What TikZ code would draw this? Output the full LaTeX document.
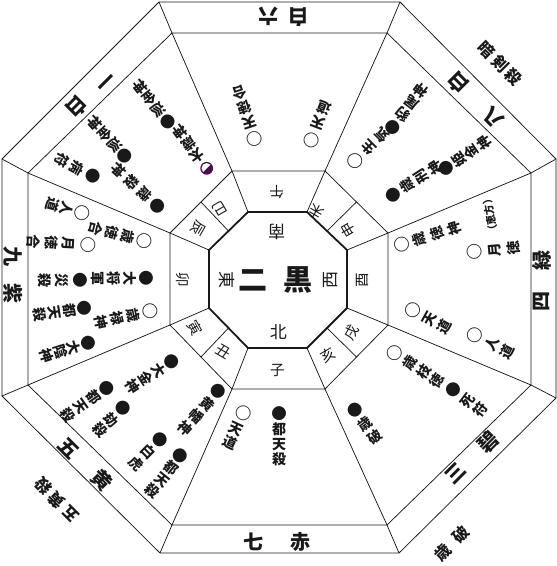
\documentclass[tikz,border=0pt]{standalone}
\usepackage{fontspec}
\setmainfont{Noto Sans CJK JP}
\definecolor{ink}{RGB}{25,25,25}
\definecolor{taisai}{RGB}{75,12,80}
\newcommand{\wcirc}{{\fontsize{16.5}{16}\selectfont ○}}
\newcommand{\bcirc}{{\fontsize{15.5}{16}\selectfont ●}}
\begin{document}
\begin{tikzpicture}[x=1pt,y=-1pt,
  frame/.style={line width=0.75pt, draw=ink, line join=miter},
  heavy/.style={line width=1.8pt, draw=ink, line join=miter},
  vt/.style={font=\fontsize{14}{#1}\selectfont\bfseries, align=center, inner sep=0pt, text=ink},
  vt/.default=16,
  hz/.style={font=\fontsize{10.5}{11}\selectfont\bfseries, inner sep=0pt, text=ink},
  br/.style={font=\fontsize{14.5}{15}\selectfont, inner sep=0pt, text=ink},
  dirlab/.style={font=\fontsize{17}{18}\selectfont, inner sep=0pt, text=ink},
  mid/.style={font=\fontsize{29}{30}\selectfont\bfseries, inner sep=0pt, text=ink},
  band/.style={font=\fontsize{20}{21}\selectfont\bfseries, inner sep=0pt, text=ink},
  outlab/.style={font=\fontsize{16}{17}\selectfont\bfseries, inner sep=0pt, text=ink},
]
\useasboundingbox (0,0) rectangle (557,566);
% outer octagon
\coordinate (O1) at (159,2);   \coordinate (O2) at (400,2);
\coordinate (O3) at (556,159); \coordinate (O4) at (556,398);
\coordinate (O5) at (399,553); \coordinate (O6) at (160,553);
\coordinate (O7) at (2,396);   \coordinate (O8) at (2,159);
% band inner octagon
\coordinate (T1) at (172,33);  \coordinate (T2) at (387,33);
\coordinate (T3) at (531,173); \coordinate (T4) at (531,385);
\coordinate (T5) at (387,525); \coordinate (T6) at (172,525);
\coordinate (T7) at (28,385);  \coordinate (T8) at (28,173);
% branch ring outer octagon
\coordinate (S1) at (232,171); \coordinate (S2) at (325,171);
\coordinate (S3) at (388,233); \coordinate (S4) at (388,325);
\coordinate (S5) at (325,389); \coordinate (S6) at (232,389);
\coordinate (S7) at (170,325); \coordinate (S8) at (170,233);
% inner octagon
\coordinate (I1) at (248,212); \coordinate (I2) at (307,212);
\coordinate (I3) at (347,250); \coordinate (I4) at (347,308);
\coordinate (I5) at (307,348); \coordinate (I6) at (248,348);
\coordinate (I7) at (209,308); \coordinate (I8) at (209,250);
% diagonal split points
\coordinate (Ma) at (327,231);   \coordinate (Na) at (356.5,202);
\coordinate (Mb) at (327,328);   \coordinate (Nb) at (356.5,357);
\coordinate (Mc) at (228.5,328); \coordinate (Nc) at (201,357);
\coordinate (Md) at (228.5,231); \coordinate (Nd) at (201,202);

\draw[frame] (O1)--(O2)--(O3)--(O4)--(O5)--(O6)--(O7)--(O8)--cycle;
\draw[frame] (T1)--(T2)--(T3)--(T4)--(T5)--(T6)--(T7)--(T8)--cycle;
\draw[frame] (S1)--(S2)--(S3)--(S4)--(S5)--(S6)--(S7)--(S8)--cycle;
\foreach \i in {1,...,8}{
  \draw[frame] (O\i)--(T\i);
  \draw[frame] (T\i)--(S\i);
  \draw[frame] (S\i)--(I\i);
}
\draw[frame] (Ma)--(Na); \draw[frame] (Mb)--(Nb);
\draw[frame] (Mc)--(Nc); \draw[frame] (Md)--(Nd);
\draw[heavy] (I1)--(I2)--(I3)--(I4)--(I5)--(I6)--(I7)--(I8)--cycle;

% centre
\node[mid] (c2) at (253,280) {二};
\node[mid] (ck) at (298,280) {黒};
\node[dirlab, rotate=180] (dS) at (276.7,231.7) {南};
\node[dirlab, rotate=90] (dW) at (331,280) {西};
\node[dirlab] (dN) at (278.3,331.7) {北};
\node[dirlab, rotate=-90] (dE) at (226.7,280) {東};

% branches
\node[br, rotate=180] (b1) at (276.7,191.7) {午};
\node[br, rotate=150] (b2) at (316.7,211.7) {未};
\node[br, rotate=120] (b3) at (348.3,230) {申};
\node[br, rotate=90] (b4) at (362.7,280) {酉};
\node[br, rotate=60] (b5) at (351.7,332.7) {戌};
\node[br, rotate=30] (b6) at (328.3,355) {亥};
\node[br] (b7) at (277.3,370) {子};
\node[br, rotate=-30] (b8) at (223.3,351.7) {丑};
\node[br, rotate=-60] (b9) at (195,328.3) {寅};
\node[br, rotate=-90] (b10) at (183.3,280) {卯};
\node[br, rotate=-120] (b11) at (198.3,228.3) {辰};
\node[br, rotate=-150] (b12) at (220,208.3) {巳};

% bands
\node[band, rotate=180] (g1a) at (268.3,16.7) {六};
\node[band, rotate=180] (g1b) at (298.3,16.7) {白};
\node[band, rotate=135] (g2a) at (493.3,117.3) {八};
\node[band, rotate=135] (g2b) at (458.3,83.3) {白};
\node[band, rotate=90] (g3a) at (541.7,301.7) {四};
\node[band, rotate=90] (g3b) at (541.7,260) {緑};
\node[band, rotate=45] (g4a) at (455,473.3) {三};
\node[band, rotate=45] (g4b) at (488.3,441.7) {碧};
\node[band] (g5a) at (253.3,541.7) {七};
\node[band] (g5b) at (300,541.7) {赤};
\node[band, rotate=-45] (g6a) at (68.3,448.3) {五};
\node[band, rotate=-45] (g6b) at (101.7,480) {黄};
\node[band, rotate=-90] (g7a) at (13.3,256.7) {九};
\node[band, rotate=-90] (g7b) at (13.3,293.3) {紫};
\node[band, rotate=-135] (g8a) at (103.3,80) {一};
\node[band, rotate=-135] (g8b) at (76.7,106.7) {白};

% outside labels
\node[outlab, rotate=-45] (x1) at (500,63.5) {暗\kern3.5pt剣\kern3.5pt殺};
\node[outlab, rotate=135] (x2) at (57,500) {五\kern3.5pt黄\kern3.5pt殺};
\node[outlab, rotate=45] (x3) at (451.7,543.3) {歳\kern9pt破};

% sector items
\node[vt=16, rotate=198] (s1) at (247.5,116.3) {\wcirc\\天\\徳\\合};
\node[vt=17, rotate=159] (s2) at (317.8,124.2) {\wcirc\\天\\道};
\node[vt=18, rotate=135] (s3) at (368.3,148.3) {\wcirc\\生\\気};
\node[vt=15, rotate=143] (s4) at (406.7,109.2) {\bcirc\\豹\\尾\\神};
\node[vt=16.5, rotate=123] (s5) at (414,181.7) {\bcirc\\歳\\刑\\神};
\node[vt=15, rotate=124] (s6) at (465,155.8) {\bcirc\\姫\\金\\神};
\node[vt=18, rotate=108] (s7) at (427.5,236.7) {\wcirc\\歳\\徳\\神};
\node[hz, rotate=101] (s8) at (490,215) {（恵方）};
\node[vt=19, rotate=95] (s9) at (494,250) {\wcirc\\月\\徳};
\node[vt=17, rotate=61] (s10) at (428.3,318.3) {\wcirc\\天\\道};
\node[vt=17.5, rotate=62] (s11) at (490.8,343.3) {\wcirc\\人\\道};
\node[vt=16.5, rotate=57] (s12) at (415.8,366.7) {\wcirc\\歳\\枝\\徳};
\node[vt=16.5, rotate=53] (s13) at (466.7,400) {\bcirc\\死\\符};
\node[vt=16.5, rotate=37] (s14) at (365,423.3) {\bcirc\\歳\\破};
\node[vt=15.5, rotate=-25] (s15) at (236.7,427.5) {\wcirc\\天\\道};
\node[vt=15] (s16) at (279.2,435.8) {\bcirc\\都\\天\\殺};
\node[vt=15.2, rotate=-57] (s17) at (152.5,374.2) {\bcirc\\大\\金\\神};
\node[vt=15.5, rotate=-55] (s18) at (87.5,401.7) {\bcirc\\都\\天\\殺};
\node[vt=16, rotate=-47] (s19) at (111.7,419.2) {\bcirc\\劫\\殺};
\node[vt=16.5, rotate=-42] (s20) at (201.7,410) {\bcirc\\黄\\幡\\神};
\node[vt=16.5, rotate=-45] (s21) at (148.3,451.7) {\bcirc\\白\\虎};
\node[vt=14.5, rotate=-39] (s22) at (166.7,473.3) {\bcirc\\都\\天\\殺};
\node[vt=15, rotate=-106] (s23) at (67.5,209.2) {\wcirc\\人\\道};
\node[vt=16.5, rotate=-105] (s24) at (120.8,235) {\wcirc\\歳\\徳\\合};
\node[vt=18, rotate=-93] (s25) at (60.8,243.3) {\wcirc\\月\\徳\\合};
\node[vt=16, rotate=-90] (s26) at (122.5,278.3) {\bcirc\\大\\将\\軍};
\node[vt=17.5, rotate=-90] (s27) at (62.5,280) {\bcirc\\災\\殺};
\node[vt=16.5, rotate=-78] (s28) at (125.8,316.7) {\wcirc\\歳\\禄\\神};
\node[vt=15, rotate=-81.5] (s29) at (62.5,311.7) {\bcirc\\都\\天\\殺};
\node[vt=14.5, rotate=-73] (s30) at (67.5,349.2) {\bcirc\\大\\陰\\神};
\node[vt=17.5, rotate=-132.5] (s31) at (138.3,188.3) {\bcirc\\歳\\殺\\神};
\node[vt=17.5, rotate=-118] (s32) at (77.5,168.3) {\bcirc\\病\\符};
\node[vt=14.5, rotate=-138] (s33) at (110,140) {\bcirc\\巡\\金\\神};
\node[vt=14.5, rotate=-142] (s34) at (154.2,104.2) {\bcirc\\巡\\金\\神};
\node[vt=15, rotate=-144] (s35) at (193.3,150) {\phantom{\bcirc}\\太\\歳\\神};
% half-filled mark of 太歳神
\coordinate (hm) at (206.7,168.3);
\fill[taisai] (hm) circle[radius=6.4];
\fill[white] (hm) ++(135:5.2) arc[start angle=135, end angle=315, radius=5.2] -- cycle;
\end{tikzpicture}
\end{document}
